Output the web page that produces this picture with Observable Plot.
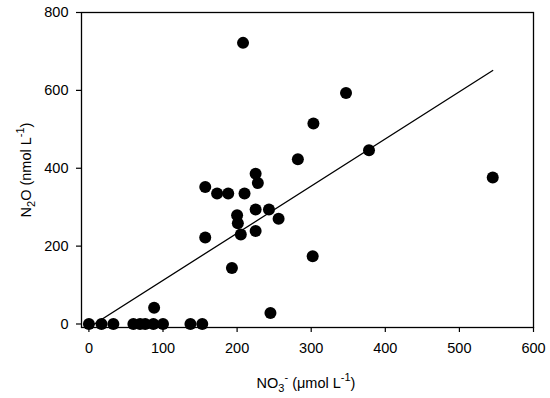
<!DOCTYPE html>
<html>
<head>
<meta charset="utf-8">
<script src="https://cdn.jsdelivr.net/npm/d3@7"></script>
<script src="https://cdn.jsdelivr.net/npm/@observablehq/plot@0.6"></script>
<style>
  html, body { margin: 0; padding: 0; background: #fff; }
  #chart svg { display: block; }
</style>
</head>
<body>
<div id="chart"></div>
<script>
// NO3- (µmol L-1)
const nitrate = [0, 17, 33, 60, 69, 76, 87, 100, 137, 153, 88,
  157, 173, 188, 210, 225, 228, 200, 201, 225, 243, 256, 157, 205, 225, 193,
  302, 245, 208, 347, 303, 282, 378, 545];
// N2O (nmol L-1)
const n2o = [0, 0, 0, 0, 0, 0, 0, 0, 0, 0, 42,
  352, 335, 335, 335, 386, 362, 279, 259, 294, 294, 270, 222, 230, 239, 144,
  174, 28, 722, 593, 515, 423, 446, 376];
// regression line end points
const fitX = [0, 545];
const fitY = [-9, 651];

const xTicks = [0, 100, 200, 300, 400, 500, 600];
const yTicks = [0, 200, 400, 600, 800];

const points = nitrate.map((x, i) => ({x, y: n2o[i]}));
const fit = fitX.map((x, i) => ({x, y: fitY[i]}));

const chart = Plot.plot({
  width: 550,
  height: 398,
  marginLeft: 81,
  marginRight: 17,
  marginTop: 12,
  marginBottom: 71,
  style: {fontFamily: "'Liberation Sans', Arial, sans-serif", fontSize: "14.5px", color: "black", background: "white"},
  x: {domain: [-10, 600]},
  y: {domain: [-9, 800]},
  marks: [
    Plot.axisX({ticks: xTicks, tickSize: 5, tickPadding: 10.5, label: null, fontSize: 14.5, strokeWidth: 1.2}),
    Plot.axisY({ticks: yTicks, tickSize: 5, tickPadding: 8, label: null, fontSize: 14.5, strokeWidth: 1.2}),
    Plot.line(fit, {x: "x", y: "y", stroke: "black", strokeWidth: 1.3, clip: true}),
    Plot.frame({stroke: "black", strokeWidth: 1.3}),
    Plot.dot(points, {x: "x", y: "y", r: 6, fill: "black", stroke: "none"})
  ]
});
document.getElementById("chart").appendChild(chart);

const svg = d3.select(chart);
const font = "'Liberation Sans', Arial, sans-serif";
// X title
const xt = svg.append("text")
  .attr("x", 306).attr("y", 388)
  .attr("text-anchor", "middle")
  .attr("font-family", font).attr("font-size", 14.5).attr("fill", "black");
xt.append("tspan").text("NO");
xt.append("tspan").attr("font-size", 11).attr("dy", 4).text("3");
xt.append("tspan").attr("font-size", 11).attr("dy", -11).text("-");
xt.append("tspan").attr("dy", 7).text(" (\u03bcmol L");
xt.append("tspan").attr("font-size", 11).attr("dy", -7).text("-1");
xt.append("tspan").attr("dy", 7).text(")");

// Y title
const yt = svg.append("text")
  .attr("transform", "translate(31,170) rotate(-90)")
  .attr("text-anchor", "middle")
  .attr("font-family", font).attr("font-size", 14.5).attr("fill", "black");
yt.append("tspan").text("N");
yt.append("tspan").attr("font-size", 11).attr("dy", 4).text("2");
yt.append("tspan").attr("dy", -4).text("O (nmol L");
yt.append("tspan").attr("font-size", 11).attr("dy", -7).text("-1");
yt.append("tspan").attr("dy", 7).text(")");
</script>
</body>
</html>
